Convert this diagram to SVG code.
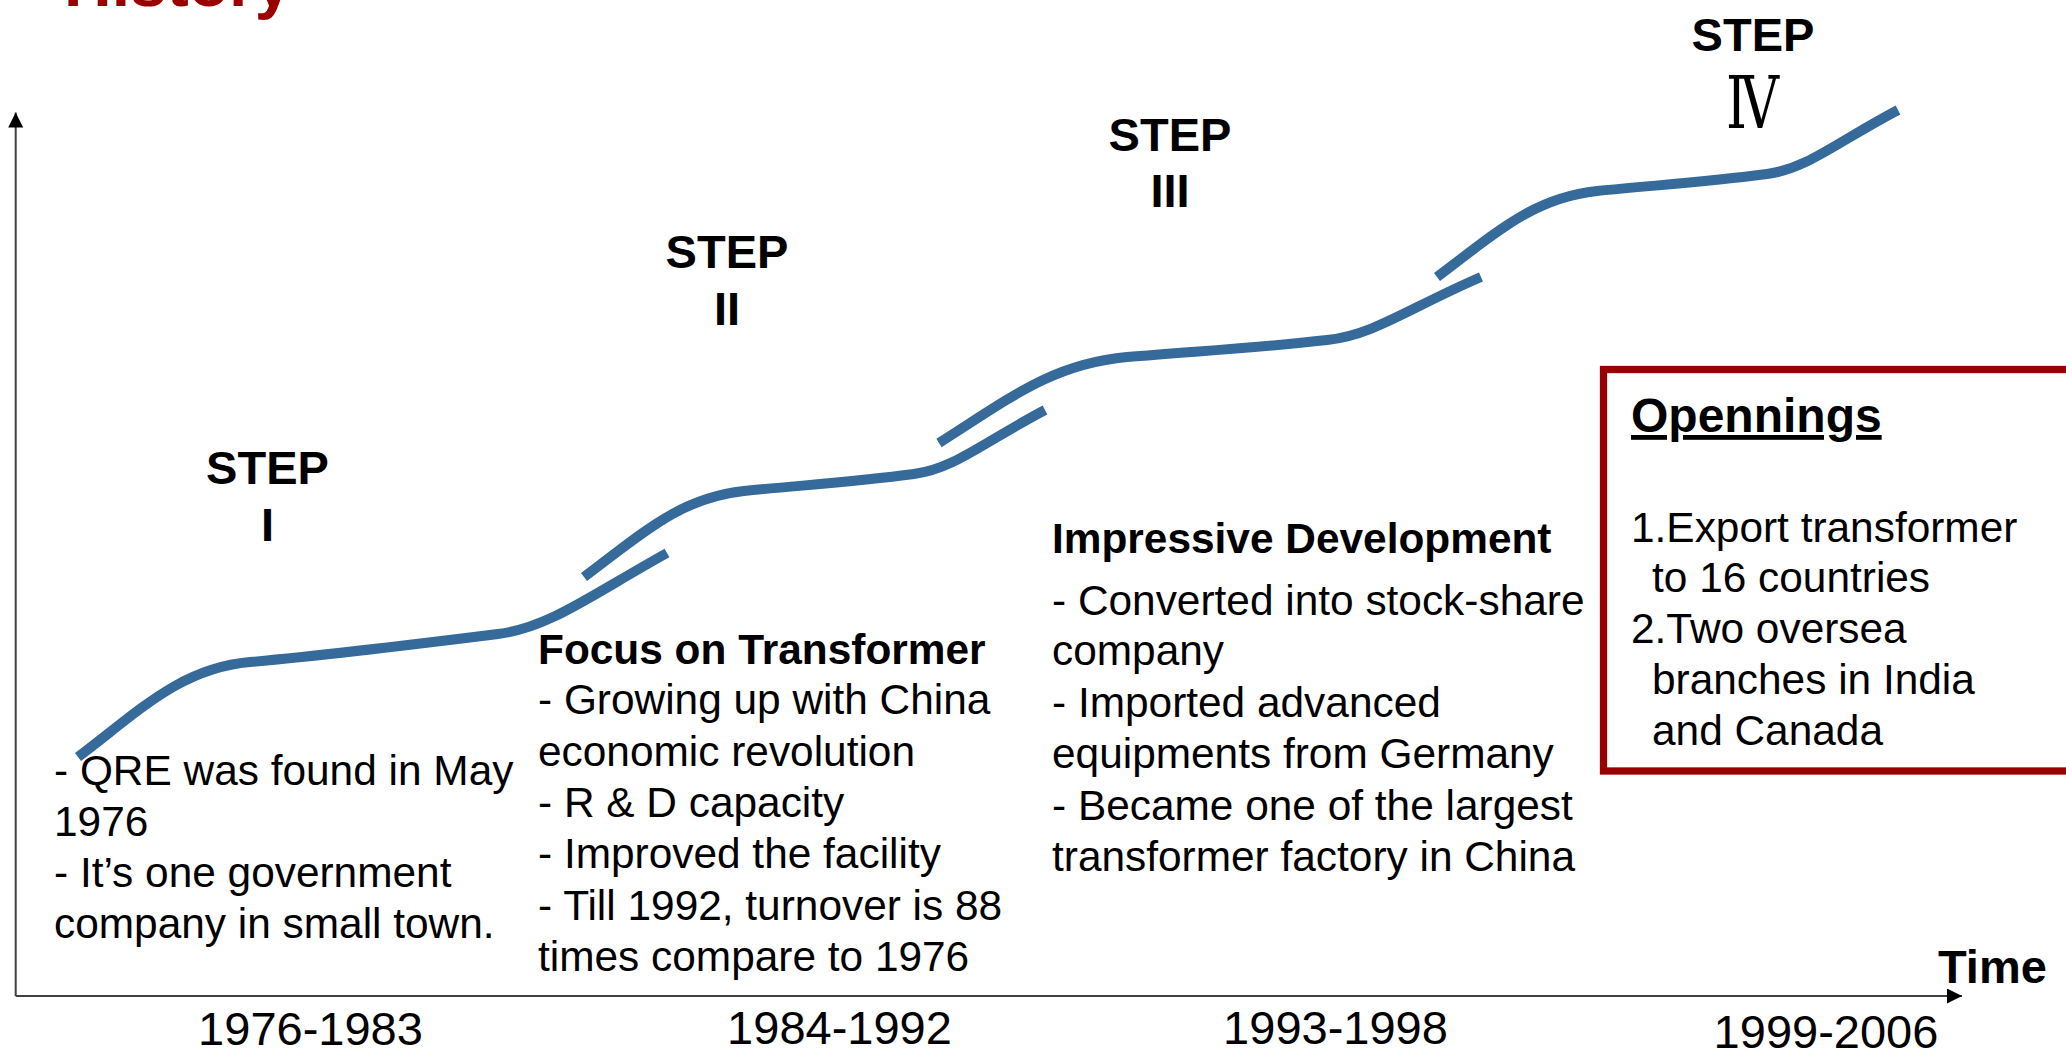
<svg xmlns="http://www.w3.org/2000/svg" width="2066" height="1054" viewBox="0 0 2066 1054">
<defs>
<style>
text{font-family:"Liberation Sans",Arial,sans-serif;fill:#000}
.body{font-size:42.4px}
.b{font-weight:bold}
.step{font-size:47px;font-weight:bold;text-anchor:middle}
.year{font-size:47px;text-anchor:middle}
.curve{fill:none;stroke:#356a9b;stroke-width:10;stroke-linecap:butt}
.axis{fill:none;stroke:#404040;stroke-width:2}
</style>
<marker id="arr" markerUnits="userSpaceOnUse" markerWidth="16" markerHeight="16" refX="15" refY="7.5" orient="auto">
<path d="M0,0 L15,7.5 L0,15 z" fill="#000"/>
</marker>
</defs>
<rect x="0" y="0" width="2066" height="1054" fill="#fff"/>

<g id="title">
<text x="64" y="6" style="font-size:66px;font-weight:bold;fill:#990000">History</text>
</g>

<g id="connectors">
<line class="axis" x1="15.7" y1="996" x2="15.7" y2="112.5" marker-end="url(#arr)"/>
<line class="axis" x1="15.7" y1="996" x2="1962" y2="996" marker-end="url(#arr)"/>
<path class="curve" d="M78,757 C138,712 180,668 250,662 C330,655 410,645 498,634 C548,628 588,597 667,553"/>
<path class="curve" d="M584,577 C644,532 680,498 744,491 C804,485 854,482 914,474 C954,469 984,442 1045,410"/>
<path class="curve" d="M939,443 C1010,398 1052,364 1127,357 C1198,351 1257,348 1327,340 C1374,335 1409,308 1481,277"/>
<path class="curve" d="M1437,277 C1497,232 1533,198 1597,191 C1657,185 1707,182 1767,174 C1807,169 1837,142 1898,110"/>
</g>

<g id="step1">
<text class="step" x="267.5" y="484">STEP</text>
<text class="step" x="267.5" y="541">I</text>
</g>
<g id="step2">
<text class="step" x="727" y="267.5">STEP</text>
<text class="step" x="727" y="324.5">II</text>
</g>
<g id="step3">
<text class="step" x="1170" y="151">STEP</text>
<text class="step" x="1170" y="207">III</text>
</g>
<g id="step4">
<text class="step" x="1753" y="51">STEP</text>
<text x="1726" y="128" textLength="53" lengthAdjust="spacingAndGlyphs" style="font-family:'Liberation Serif','DejaVu Serif',serif;font-size:72px">Ⅳ</text>
</g>

<g id="period1">
<text class="body" x="54" y="785">- QRE was found in May</text>
<text class="body" x="54" y="836">1976</text>
<text class="body" x="54" y="887">- It’s one government</text>
<text class="body" x="54" y="938">company in small town.</text>
</g>

<g id="period2">
<text class="body b" x="538" y="664">Focus on Transformer</text>
<text class="body" x="538" y="714">- Growing up with China</text>
<text class="body" x="538" y="766">economic revolution</text>
<text class="body" x="538" y="817">- R &amp; D capacity</text>
<text class="body" x="538" y="868">- Improved the facility</text>
<text class="body" x="538" y="920">- Till 1992, turnover is 88</text>
<text class="body" x="538" y="971">times compare to 1976</text>
</g>

<g id="period3">
<text class="body b" x="1052" y="553">Impressive Development</text>
<text class="body" x="1052" y="615">- Converted into stock-share</text>
<text class="body" x="1052" y="665">company</text>
<text class="body" x="1052" y="717">- Imported advanced</text>
<text class="body" x="1052" y="768">equipments from Germany</text>
<text class="body" x="1052" y="820">- Became one of the largest</text>
<text class="body" x="1052" y="871">transformer factory in China</text>
</g>

<g id="openings">
<rect x="1603.5" y="369.5" width="500" height="401.5" fill="none" stroke="#990000" stroke-width="7.3"/>
<text x="1631" y="432" text-decoration="underline" style="font-size:48px;font-weight:bold">Opennings</text>
<text class="body" x="1631" y="542">1.Export transformer</text>
<text class="body" x="1652" y="592">to 16 countries</text>
<text class="body" x="1631" y="643">2.Two oversea</text>
<text class="body" x="1652" y="694">branches in India</text>
<text class="body" x="1652" y="745">and Canada</text>
</g>

<g id="axis-labels">
<text x="1938" y="983" style="font-size:47px;font-weight:bold">Time</text>
<text class="year" x="310.5" y="1045">1976-1983</text>
<text class="year" x="839.5" y="1044">1984-1992</text>
<text class="year" x="1335.5" y="1044">1993-1998</text>
<text class="year" x="1826" y="1048">1999-2006</text>
</g>
</svg>
